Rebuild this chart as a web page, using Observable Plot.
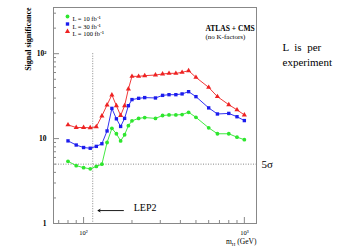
<!DOCTYPE html>
<html>
<head>
<meta charset="utf-8">
<script src="https://cdn.jsdelivr.net/npm/d3@7"></script>
<script src="https://cdn.jsdelivr.net/npm/@observablehq/plot@0.6"></script>
<style>
  html, body { margin: 0; padding: 0; background: white; }
</style>
</head>
<body>
<div id="chart"></div>
<script>
// Higgs mass points (GeV)
const mass = [80, 90, 100, 110, 120, 130, 140, 150, 160, 170, 180, 190, 200, 220, 240,
              280, 310, 340, 375, 410, 450, 500, 600, 680, 800, 900, 1000];
// Signal significance, L = 10 fb-1
const sig10 = [5.4, 4.8, 4.55, 4.4, 4.7, 5.0, 9.0, 13.2, 11.4, 9.4, 11.1, 14.2, 16.2, 17.3, 17.7,
               17.3, 18.7, 19.0, 19.0, 19.2, 20.4, 17.8, 13.4, 11.4, 11.4, 10.4, 9.7];
// L = 30 fb-1
const sig30 = [9.4, 8.4, 7.85, 7.7, 8.1, 8.7, 12.3, 22.7, 17.1, 13.9, 17.3, 24.4, 28.8, 29.8, 30.4,
               30.1, 32.3, 32.9, 32.9, 33.6, 35.7, 31.2, 23.0, 19.5, 19.8, 18.1, 16.3];
// L = 100 fb-1
const sig100 = [14.5, 13.5, 13.5, 13.4, 13.8, 18.5, 24.9, 32.7, 24.4, 18.7, 24.4, 38.4, 54.1, 54.1, 55.1,
                56.1, 57.7, 58.7, 58.7, 60.3, 63.1, 52.6, 40.1, 31.2, 25.1, 21.8, 19.0];

const seriesKeys = ["10", "30", "100"];
const seriesLabels = ["L = 10 fb\u207B\u00B9", "L = 30 fb\u207B\u00B9", "L = 100 fb\u207B\u00B9"];
const seriesColors = ["#2ee62e", "#1c1cee", "#ee2222"];
const seriesSymbols = ["circle", "square", "triangle"];

const yMajor = [1, 10, 100];
const yMajorLabels = ["1", "10", "10\u00B2"];
const yMinor = [2, 3, 4, 5, 6, 7, 8, 9, 20, 30, 40, 50, 60, 70, 80, 90, 200, 300];
const xMajor = [100, 1000];
const xMajorLabels = ["10\u00B2", "10\u00B3"];
const xMinor = [70, 80, 90, 200, 300, 400, 500, 600, 700, 800, 900];

const lep2Limit = 114;
const fiveSigma = 5;

const rows = mass.flatMap((m, i) => [
  {m, s: sig10[i], L: "10"},
  {m, s: sig30[i], L: "30"},
  {m, s: sig100[i], L: "100"}
]);

const font = "'Liberation Serif', 'Times New Roman', serif";
const gray = "#888";

const legendMarks = seriesKeys.flatMap((k, i) => [
  Plot.dot([k], {frameAnchor: "top-left", dx: 14, dy: 9 + i * 7.5, fill: d => d, symbol: d => d, r: 1.9}),
  Plot.text([seriesLabels[i]], {frameAnchor: "top-left", dx: 19, dy: 9 + i * 7.5, textAnchor: "start", fontSize: 6.5, fill: "black"})
]);

const chart = Plot.plot({
  width: 347,
  height: 250,
  marginLeft: 53,
  marginRight: 91,
  marginTop: 7,
  marginBottom: 27,
  x: {type: "log", domain: [65, 1190]},
  y: {type: "log", domain: [1, 350]},
  color: {domain: seriesKeys, range: seriesColors},
  symbol: {domain: seriesKeys, range: seriesSymbols},
  style: {fontFamily: font, background: "white", overflow: "visible"},
  marks: [
    Plot.ruleY([fiveSigma], {stroke: gray, strokeDasharray: "1,1.5", strokeWidth: 1}),
    Plot.ruleX([lep2Limit], {y1: 100, y2: 1, stroke: gray, strokeDasharray: "1,1.5", strokeWidth: 1}),
    Plot.frame({stroke: gray, strokeWidth: 1}),
    Plot.axisY(yMinor, {anchor: "left", tickSize: 3, dx: 3, tickFormat: () => "", stroke: gray, label: null}),
    Plot.axisY(yMajor, {anchor: "left", tickSize: 6, dx: 6, tickFormat: () => "", stroke: gray, label: null}),
    Plot.axisY(yMajor, {anchor: "left", tickSize: 0, tickPadding: 7, tickFormat: d => yMajorLabels[yMajor.indexOf(d)], fontSize: 7.5, fontWeight: "bold", label: null}),
    Plot.axisX(xMinor, {anchor: "bottom", tickSize: 3, dy: -3, tickFormat: () => "", stroke: gray, label: null}),
    Plot.axisX(xMajor, {anchor: "bottom", tickSize: 6, dy: -6, tickFormat: () => "", stroke: gray, label: null}),
    Plot.axisX(xMajor, {anchor: "bottom", tickSize: 0, tickPadding: 7, tickFormat: d => xMajorLabels[xMajor.indexOf(d)], fontSize: 6.5, label: null}),
    Plot.line(rows, {x: "m", y: "s", z: "L", stroke: "L", strokeWidth: 0.9}),
    Plot.dot(rows, {x: "m", y: "s", fill: "L", symbol: "L", r: 1.9}),
    ...legendMarks,
    Plot.text(["ATLAS + CMS"], {frameAnchor: "top-left", dx: 152, dy: 18, fontSize: 7.5, fontWeight: "bold"}),
    Plot.text(["(no K-factors)"], {frameAnchor: "top-left", dx: 152, dy: 27, fontSize: 7}),
    Plot.text(["Signal significance"], {frameAnchor: "top-left", dx: -28, dy: 0, rotate: -90, textAnchor: "end", fontSize: 8, fontWeight: "bold"}),
    Plot.text(["m_H (GeV)"], {frameAnchor: "bottom-right", dx: 0, dy: 20, textAnchor: "end", fontSize: 7.5}),
    Plot.text(["L  is  per"], {frameAnchor: "top-right", dx: 26, dy: 36, textAnchor: "start", fontSize: 11}),
    Plot.text(["experiment"], {frameAnchor: "top-right", dx: 26, dy: 51, textAnchor: "start", fontSize: 11}),
    Plot.text([fiveSigma], {y: d => d, frameAnchor: "right", dx: 5, text: () => "5\u03C3", textAnchor: "start", fontSize: 11}),
    Plot.arrow([lep2Limit], {x1: 177, x2: 123, y1: 1.42, y2: 1.42, stroke: "black", strokeWidth: 0.9, headLength: 4}),
    Plot.text(["LEP2"], {x: 205, y: 1.54, textAnchor: "start", fontSize: 10})
  ]
});

d3.select(chart).selectAll("text").filter(function() { return this.textContent === "m_H (GeV)"; })
  .each(function() {
    const t = d3.select(this);
    t.text("");
    t.append("tspan").text("m");
    t.append("tspan").attr("dy", "2").attr("font-size", "5").text("H");
    t.append("tspan").attr("dy", "-2").text(" (GeV)");
  });

document.getElementById("chart").appendChild(chart);
</script>
</body>
</html>
